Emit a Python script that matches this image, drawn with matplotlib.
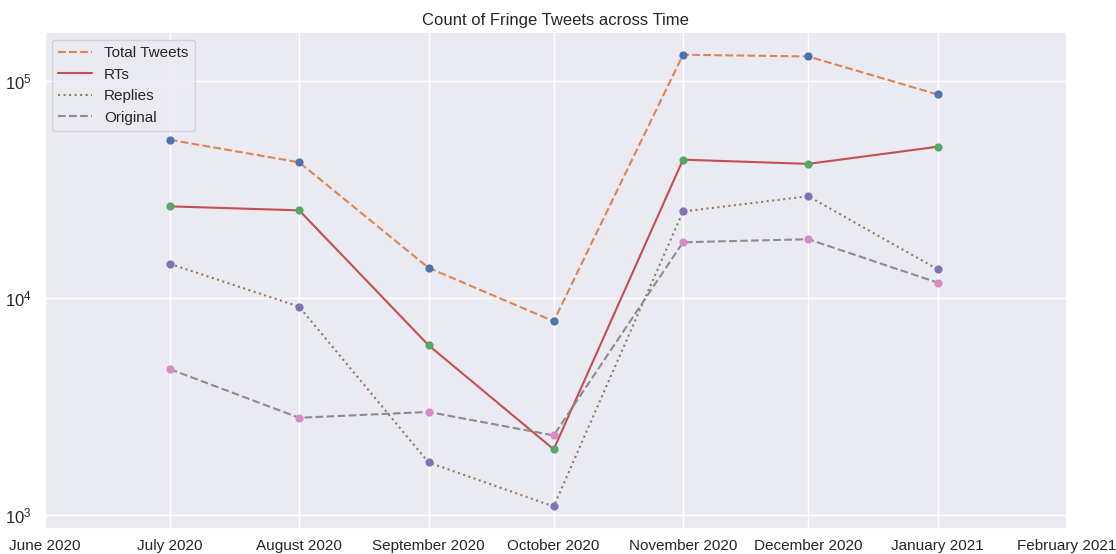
import numpy as np
import pandas as pd
import matplotlib
matplotlib.use("Agg")
import matplotlib.pyplot as plt
import matplotlib.dates as mdates
import seaborn as sns

sns.set_theme(style="darkgrid")
plt.rcParams['font.family'] = ['Liberation Sans', 'DejaVu Sans']
plt.rcParams['mathtext.default'] = 'regular'

months = pd.to_datetime(["2020-07-01", "2020-08-01", "2020-09-01", "2020-10-01",
                         "2020-11-01", "2020-12-01", "2021-01-01"])
total = [53700, 42300, 13800, 7830, 132500, 130100, 86900]
rts = [26500, 25400, 6070, 2010, 43500, 41600, 49900]
replies = [14400, 9140, 1750, 1096, 25100, 29500, 13600]
original = [4710, 2810, 2990, 2330, 18100, 18700, 11800]

pal = sns.color_palette("deep")

fig, ax = plt.subplots(figsize=(11.16, 5.54), dpi=100)
fig.subplots_adjust(left=0.040, right=0.956, top=0.942, bottom=0.045)

# lines first, then the monthly points on top
ax.plot(months, total, ls="--", color=pal[1], lw=1.5, label="Total Tweets")
ax.plot(months, rts, ls="-", color=pal[3], lw=1.5, label="RTs")
ax.plot(months, replies, ls=":", color=pal[5], lw=1.5, label="Replies")
ax.plot(months, original, ls="--", color=pal[7], lw=1.5, label="Original")

ax.scatter(months, total, color=pal[0], s=24, zorder=3)
ax.scatter(months, rts, color=pal[2], s=24, zorder=3)
ax.scatter(months, replies, color=pal[4], s=24, zorder=3)
ax.scatter(months, original, color=pal[6], s=24, zorder=3)

ax.set_yscale("log")
ax.set_xlim(pd.Timestamp("2020-06-01"), pd.Timestamp("2021-02-01"))
ax.xaxis.set_major_locator(mdates.MonthLocator())
ax.xaxis.set_major_formatter(mdates.DateFormatter("%B %Y"))
ax.tick_params(axis="x", labelsize=11, pad=1)
ax.tick_params(axis="y", labelsize=12)

ax.set_title("Count of Fringe Tweets across Time", fontsize=12, pad=5)
ax.legend(loc="upper left", fontsize=11, handlelength=2.2)

fig.savefig("out.png", dpi=100)
